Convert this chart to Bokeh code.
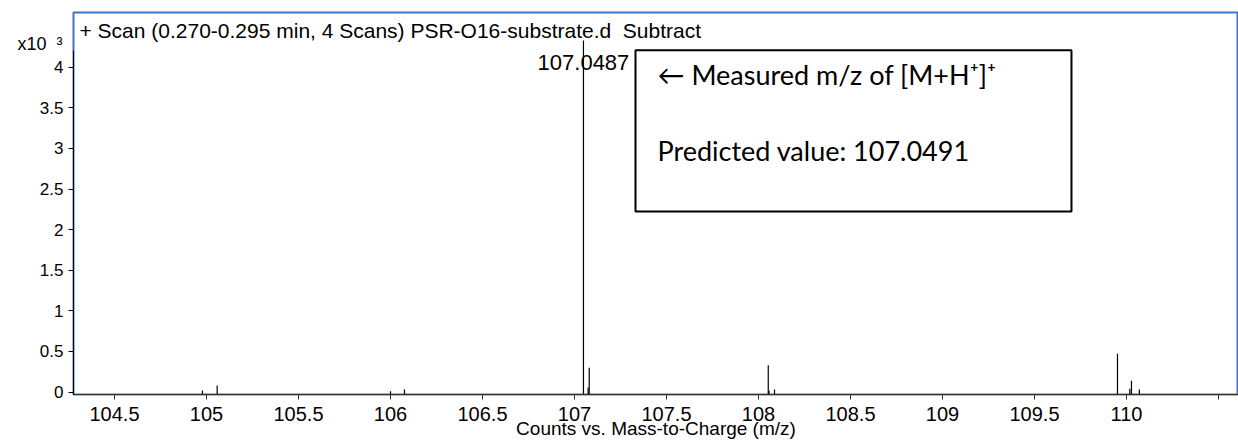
from bokeh.plotting import figure
from bokeh.models import Range1d, FixedTicker, Label, BoxAnnotation, LinearAxis
from bokeh.embed import file_html
from bokeh.resources import INLINE

# ---- data ----
mz = [104.978, 105.058, 106.000, 106.076, 107.0487, 107.074, 107.080,
      108.053, 108.057, 108.087, 109.951, 110.018, 110.027, 110.070]
intensity_k = [0.02, 0.08, 0.01, 0.03, 4.33, 0.055, 0.30,
               0.33, 0.02, 0.03, 0.47, 0.04, 0.14, 0.03]

x_ticks = [104.5, 105.0, 105.5, 106.0, 106.5, 107.0, 107.5, 108.0, 108.5, 109.0, 109.5, 110.0, 110.5]
x_tick_labels = ["104.5", "105", "105.5", "106", "106.5", "107", "107.5", "108", "108.5",
                 "109", "109.5", "110", ""]
y_ticks = [0, 0.5, 1.0, 1.5, 2.0, 2.5, 3.0, 3.5, 4.0]
y_tick_labels = ["0", "0.5", "1", "1.5", "2", "2.5", "3", "3.5", "4"]

title_text = "+ Scan (0.270-0.295 min, 4 Scans) PSR-O16-substrate.d\u00a0 Subtract"
peak_label = "107.0487"
peak_label_mz = 107.0487
x_label = "Counts vs. Mass-to-Charge (m/z)"
scale_text = "x10\u00a0\u00a0\u00b3"
note1 = "\u2190 Measured m/z of [M+H\u207a]\u207a"
note2 = "Predicted value: 107.0491"

X_MIN, X_MAX = 104.2772, 110.6087
Y_MIN, Y_MAX = -0.0306, 4.675

BLUE = "#4472C4"
AX_FONT = "Liberation Sans"

p = figure(width=1238, height=441,
           x_range=Range1d(X_MIN, X_MAX), y_range=Range1d(Y_MIN, Y_MAX),
           output_backend="svg", toolbar_location=None, title=None,
           min_border_left=73, min_border_right=0, min_border_top=12, min_border_bottom=45)

p.background_fill_color = "white"
p.border_fill_color = "white"
p.outline_line_color = BLUE
p.outline_line_width = 2
p.xgrid.visible = False
p.ygrid.visible = False

# peaks
p.segment(x0=mz, y0=[Y_MIN] * len(mz), x1=mz, y1=intensity_k,
          line_color="black", line_width=1.2)

# x axis
xa = p.xaxis[0]
xa.ticker = FixedTicker(ticks=x_ticks)
xa.major_label_overrides = {t: l for t, l in zip(x_ticks, x_tick_labels)}
xa.minor_tick_line_color = None
xa.major_tick_in = 0
xa.major_tick_out = 5
xa.major_label_standoff = 7
xa.major_label_text_font = AX_FONT
xa.major_label_text_font_size = "20px"
xa.major_label_text_color = "black"
xa.axis_line_color = "#333333"
xa.major_tick_line_color = "#333333"
xa.axis_label = x_label
xa.axis_label_text_font = AX_FONT
xa.axis_label_text_font_size = "19px"
xa.axis_label_text_font_style = "normal"
xa.axis_label_text_color = "black"
xa.axis_label_standoff = -6

# y axis
ya = p.yaxis[0]
ya.ticker = FixedTicker(ticks=y_ticks)
ya.major_label_overrides = {t: l for t, l in zip(y_ticks, y_tick_labels)}
ya.minor_tick_line_color = None
ya.major_tick_in = 0
ya.major_tick_out = 5
ya.major_label_standoff = 5
ya.major_label_text_font = AX_FONT
ya.major_label_text_font_size = "17px"
ya.major_label_text_color = "black"
ya.axis_line_color = "black"
ya.major_tick_line_color = "black"
ya.bounds = (Y_MIN, 4.21)

# scale factor text, carried by a bare second axis on the left
scale_axis = LinearAxis(ticker=FixedTicker(ticks=[4.283]),
                        major_label_overrides={4.283: scale_text},
                        axis_line_color=None, major_tick_line_color=None,
                        minor_tick_line_color=None, major_tick_out=0, major_tick_in=0,
                        major_label_standoff=-26,
                        major_label_text_font=AX_FONT, major_label_text_font_size="18px",
                        major_label_text_color="black")
p.add_layout(scale_axis, "left")

# in-plot texts
p.add_layout(Label(x=104.3098, y=4.455, text=title_text, text_font=AX_FONT,
                   text_font_size="21px", text_baseline="middle", text_align="left",
                   text_color="black"))
p.add_layout(Label(x=peak_label_mz, y=4.06, text=peak_label, text_font=AX_FONT,
                   text_font_size="22px", text_baseline="middle", text_align="center",
                   text_color="black"))

# annotation box
p.add_layout(BoxAnnotation(left=107.3315, right=109.701, top=4.2096, bottom=2.2243,
                           fill_color="white", fill_alpha=1.0,
                           line_color="black", line_width=2, line_alpha=1.0))
p.add_layout(Label(x=107.451, y=3.915, text=note1, text_font="Lato",
                   text_font_size="27px", text_baseline="middle", text_align="left",
                   text_color="black"))
p.add_layout(Label(x=107.451, y=2.979, text=note2, text_font="Lato",
                   text_font_size="27px", text_baseline="middle", text_align="left",
                   text_color="black"))

open("out.html", "w").write(file_html(p, INLINE))
